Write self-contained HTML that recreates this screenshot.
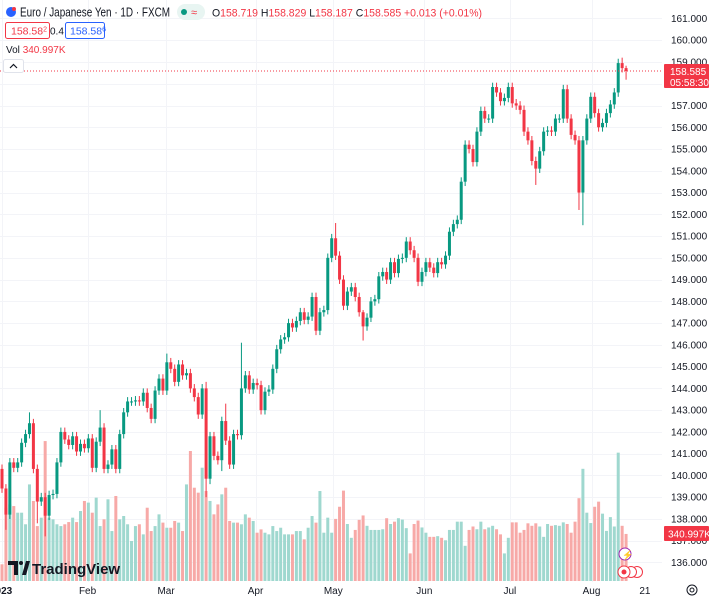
<!DOCTYPE html>
<html><head><meta charset="utf-8">
<style>
html,body{margin:0;padding:0;background:#fff;}
svg{display:block;font-family:"Liberation Sans",sans-serif;}
</style></head>
<body>
<svg id="chart" width="710" height="600" viewBox="0 0 710 600" xmlns="http://www.w3.org/2000/svg">
  <rect x="0" y="0" width="710" height="600" fill="#ffffff"/>
  <g id="grid"></g>
  <g id="vol"></g>
  <g id="candles"></g>
  <line x1="0" y1="71" x2="662" y2="71" stroke="#f23645" stroke-width="1" stroke-dasharray="1,2"/>
  <g id="yaxis"></g>
  <g id="xaxis"></g>

  <g>
    <circle cx="11" cy="12" r="5" fill="#2962ff"/>
    <circle cx="14" cy="9" r="2" fill="#f23645"/>
    <text x="20" y="16.5" font-size="12.5" textLength="150" lengthAdjust="spacingAndGlyphs" fill="#131722">Euro / Japanese Yen · 1D · FXCM</text>
    <rect x="177" y="4" width="28" height="16" rx="8" fill="#e8f5f2"/>
    <circle cx="184" cy="12" r="3" fill="#089981"/>
    <text x="191" y="16" font-size="11" fill="#f23645">≈</text>
    <text x="212" y="16.5" font-size="11" textLength="270" lengthAdjust="spacingAndGlyphs"><tspan fill="#131722">O</tspan><tspan fill="#f23645">158.719 </tspan><tspan fill="#131722">H</tspan><tspan fill="#f23645">158.829 </tspan><tspan fill="#131722">L</tspan><tspan fill="#f23645">158.187 </tspan><tspan fill="#131722">C</tspan><tspan fill="#f23645">158.585 +0.013 (+0.01%)</tspan></text>
    <rect x="5.5" y="22.5" width="44" height="16" rx="2" fill="#fff" stroke="#f23645"/>
    <text x="11" y="34.5" font-size="10.5" fill="#f23645">158.58<tspan font-size="7" dy="-3">2</tspan></text>
    <text x="50" y="34.5" font-size="10" fill="#131722">0.4</text>
    <rect x="65.5" y="22.5" width="39" height="16" rx="2" fill="#fff" stroke="#2962ff"/>
    <text x="70" y="34.5" font-size="10.5" fill="#2962ff">158.58<tspan font-size="7" dy="-3">6</tspan></text>
    <text x="6" y="53" font-size="10" fill="#131722">Vol <tspan fill="#f23645">340.997K</tspan></text>
    <rect x="3.5" y="59.5" width="20" height="13" rx="2" fill="#fff" stroke="#e0e3eb"/>
    <path d="M10 68 L13.5 64.5 L17 68" fill="none" stroke="#131722" stroke-width="1.2"/>
  </g>

  <rect x="664" y="64" width="45" height="24" rx="1" fill="#f23645"/>
  <text x="670" y="75" font-size="10" fill="#fff">158.585</text>
  <text x="670" y="86" font-size="10" fill="#fff">05:58:30</text>
  <rect x="664" y="526" width="45" height="15" rx="1" fill="#f23645"/>
  <text x="668" y="537.5" font-size="10" fill="#fff">340.997K</text>

  <g>
    <path d="M8 561 H18 V575 H14 V565 H8 Z" fill="#131722"/>
    <circle cx="21" cy="563" r="2" fill="#131722"/>
    <path d="M22 575 L26 561 H30 L26 575 Z" fill="#131722"/>
    <text x="32" y="574" font-size="15" font-weight="bold" fill="#131722">TradingView</text>
  </g>

  <circle cx="625" cy="554" r="6" fill="#fff" stroke="#9c27b0"/>
  <text x="622" y="558" font-size="9" fill="#9c27b0">⚡</text>
  <circle cx="637" cy="572" r="5.5" fill="#fff" stroke="#f23645"/>
  <circle cx="631" cy="572" r="5.5" fill="#fff" stroke="#f23645"/>
  <circle cx="624" cy="572" r="6" fill="#fff" stroke="#f23645"/>
  <circle cx="624" cy="572" r="2.5" fill="#f23645"/>
  <circle cx="692" cy="590" r="5" fill="none" stroke="#131722"/>
  <circle cx="692" cy="590" r="2" fill="none" stroke="#131722"/>
</svg>
<script>
const opens0 = [140.3];
const closes = [
139.4,138.2,140.6,140.35,140.6,141.5,141.9,142.4,140.3,138.8,
139.0,138.15,139.1,139.15,140.6,142.0,141.65,141.4,141.8,141.1,
141.45,141.25,141.7,140.35,141.55,142.2,140.3,140.5,141.2,140.3,
141.9,142.9,143.4,143.4,143.45,143.4,143.8,143.1,142.6,143.9,
144.45,143.9,145.2,144.9,144.3,145.1,144.6,144.7,144.0,143.6,
142.8,144.0,139.85,141.8,140.9,140.7,142.5,141.6,140.5,141.9,
141.85,144.0,144.6,143.95,144.25,144.15,143.0,143.85,143.95,144.9,
145.8,146.25,146.35,147.0,146.8,147.1,147.5,147.15,147.3,148.2,
146.65,147.5,147.6,150.0,150.9,150.1,149.0,147.8,148.45,148.65,
148.2,147.5,146.85,147.25,148.0,148.1,149.15,149.35,149.0,149.8,
149.3,149.95,150.0,150.75,150.35,150.0,148.9,149.35,149.8,149.55,
149.3,149.8,149.7,150.1,151.2,151.55,151.75,153.5,155.2,155.0,
154.4,155.8,156.75,156.4,156.4,157.85,157.6,157.2,157.35,157.85,
157.1,157.0,156.8,155.8,155.4,154.45,154.1,154.9,155.8,155.85,
155.8,156.4,156.4,157.75,156.4,155.65,155.4,153.0,155.4,156.4,
157.4,156.65,156.0,156.2,156.65,157.05,157.6,158.95,158.719,158.585];
const volumes = [
121,531,555,543,495,495,411,700,580,398,
459,1014,459,447,411,398,411,427,459,427,
507,580,568,495,604,398,447,592,362,616,
447,471,411,290,398,411,338,531,362,398,
483,423,386,386,435,423,362,700,942,676,
640,821,652,580,483,555,628,676,435,423,
423,411,483,459,435,350,374,350,338,398,
362,386,338,338,338,362,362,302,386,471,
423,652,350,459,350,450,538,655,413,313,
370,443,475,400,370,370,370,375,455,413,
430,455,445,383,200,413,438,388,350,320,
320,325,313,295,370,370,430,430,255,370,
395,375,430,375,388,400,375,338,200,313,
425,425,350,370,418,400,418,395,320,413,
400,405,400,425,413,350,430,600,813,495,
420,538,575,488,363,463,395,930,400,341];
const highOverrides = {7:142.9, 25:143.0, 42:145.6, 52:144.3, 57:143.3, 61:146.1, 85:151.6, 92:147.6, 158:159.2, 159:158.829};
const lowOverrides = {1:137.5, 9:137.8, 11:137.2, 52:139.0, 53:139.6, 56:140.2, 92:146.2, 136:153.35, 147:152.2, 148:151.5, 159:158.187};
const priceTicks = [136,137,138,139,140,141,142,143,144,145,146,147,148,149,150,151,152,153,154,155,156,157,158,159,160,161];
const monthLabels = ["2023","Feb","Mar","Apr","May","Jun","Jul","Aug","21"];
const monthIndex = [0,21.8,41.8,64.6,84.4,107.6,129.4,150.2,163.8];

const NS = "http://www.w3.org/2000/svg";
const X0 = 2, STEP = 3.925, PLOT_W = 662;
function xScale(i){ return X0 + i*STEP; }
function yScale(p){ return 62 + (159 - p)*21.76; }
function vScale(v){ return v*0.138; }
const VOL_BASE = 581;
function mk(tag, attrs, parent){ const e=document.createElementNS(NS,tag); for(const k in attrs) e.setAttribute(k, attrs[k]); parent.appendChild(e); return e; }

const grid = document.getElementById('grid');
const yaxis = document.getElementById('yaxis');
const xaxis = document.getElementById('xaxis');
priceTicks.forEach(p=>{
  const y = Math.round(yScale(p))+0.5;
  const l = mk('line',{x1:0,x2:PLOT_W,y1:y,y2:y,stroke:'#f3f4f8','stroke-width':1},grid);
  
  
  if (Math.abs(yScale(p)-71) < 9) return;
  const t = mk('text',{x:671,y:yScale(p)+3.5,'font-size':10,fill:'#131722'},yaxis);
  t.textContent = p.toFixed(3);
  
  
});
monthLabels.forEach((m,k)=>{
  const x = xScale(monthIndex[k]);
  if (k < monthLabels.length-1) {
    const l = mk('line',{x1:Math.round(x)+0.5,x2:Math.round(x)+0.5,y1:0,y2:582,stroke:'#f3f4f8','stroke-width':1},grid);
    
    
  }
  const t = mk('text',{x:x,y:594,'font-size':10,fill:'#131722','text-anchor':'middle'},xaxis);
  if (k===0) { t.setAttribute('text-anchor','start'); t.setAttribute('x', -10); t.setAttribute('font-weight','bold'); }
  t.textContent = m;
  
  
});

const volG = document.getElementById('vol');
const candG = document.getElementById('candles');
closes.forEach((c,i)=>{
  const o = i===0 ? opens0[0] : closes[i-1];
  const up = c >= o;
  const x = xScale(i);
  const h = (i in highOverrides) ? highOverrides[i] : Math.max(o,c)+0.2;
  const lo = (i in lowOverrides) ? lowOverrides[i] : Math.min(o,c)-0.2;
  const vh = vScale(volumes[i]);
  const vb = mk('rect',{x:x-1.5,y:VOL_BASE-vh,width:3,height:vh,fill: up?'#9fd8cf':'#f7a9a7'},volG);
  
  
  const col = up ? '#089981' : '#f23645';
  const w = mk('line',{x1:x,x2:x,y1:yScale(h),y2:yScale(lo),stroke:col,'stroke-width':1},candG);
  
  
  const top = yScale(Math.max(o,c)), bot = yScale(Math.min(o,c));
  const b = mk('rect',{x:x-1.5,y:top,width:3,height:Math.max(1,bot-top),fill:col},candG);
  
  
});
</script>
</body></html>
